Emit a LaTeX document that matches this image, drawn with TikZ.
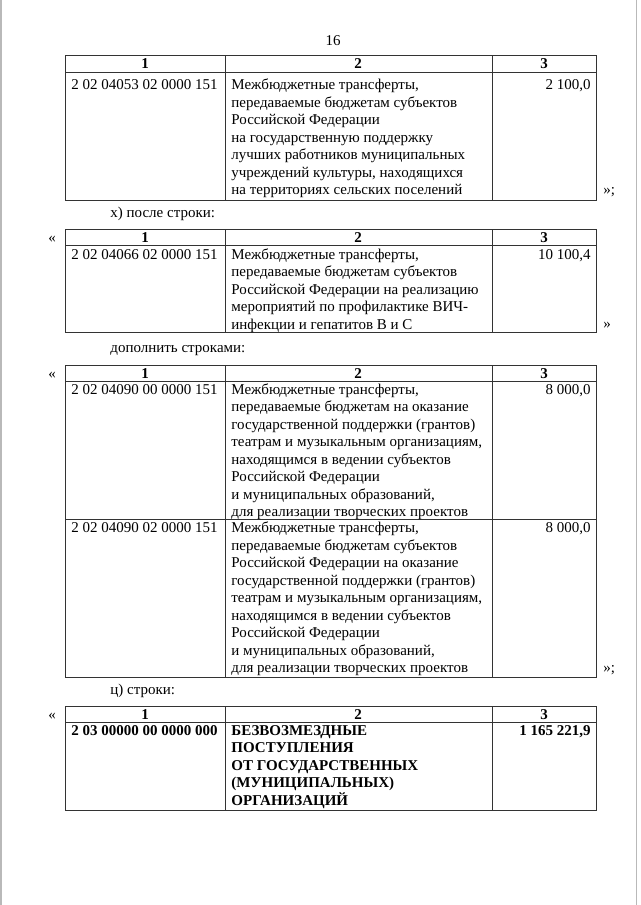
\documentclass[tikz,border=0pt]{standalone}
\usepackage{fontspec}
\setmainfont{Liberation Serif}
\usepackage{tikz}

\newcommand{\cellfont}{\fontsize{15}{17.5}\selectfont}

\begin{document}
\begin{tikzpicture}[x=1pt,y=-1pt,
	line width=0.85pt, draw=black!80,
	txt/.style={anchor=base west, inner sep=0pt, font=\cellfont},
	num/.style={anchor=base east, inner sep=0pt, font=\cellfont},
	head/.style={anchor=base, inner sep=0pt, font=\cellfont\bfseries}]
			\useasboundingbox (0,0) rectangle (640,905);
			%\draw [help lines] (0,0) grid (640,905);
			\fill[white] (0,0) rectangle (640,905);
			\draw[gray!55, line width=1.2pt] (1,0) -- (1,905);
			\draw[gray!55, line width=1.2pt] (636.5,0) -- (636.5,905);

			\node[head, font=\cellfont] (page) at (333,45) {16};

			% table 1
			\draw (65,55) rectangle (596,200);
			\draw (65,72) -- (596,72);
			\draw (225,55) -- (225,200);
			\draw (492,55) -- (492,200);
			\node[head] (ta1) at (145,68) {1};
			\node[head] (ta2) at (358,68) {2};
			\node[head] (ta3) at (544,68) {3};
			\node[txt] (ta-code) at (71,89.5) {2 02 04053 02 0000 151};
			\node[txt] (ta-name) at (231,89.5) {\parbox[t]{260pt}{Межбюджетные трансферты,\\
				передаваемые бюджетам субъектов\\
				Российской Федерации\\
				на государственную поддержку\\
				лучших работников муниципальных\\
				учреждений культуры, находящихся\\
				на территориях сельских поселений}};
			\node[num] (ta-sum) at (591,89.5) {2 100,0};
			\node[txt] (ta-close) at (603,194) {»;};

			\node[txt] (xnote) at (110,217) {х) после строки:};

			% table 2
			\draw (65,229) rectangle (596,332);
			\draw (65,245) -- (596,245);
			\draw (225,229) -- (225,332);
			\draw (492,229) -- (492,332);
			\node[txt] (tb-open) at (48,242) {«};
			\node[head] (tb1) at (145,242) {1};
			\node[head] (tb2) at (358,242) {2};
			\node[head] (tb3) at (544,242) {3};
			\node[txt] (tb-code) at (71,259) {2 02 04066 02 0000 151};
			\node[txt] (tb-name) at (231,259) {\parbox[t]{260pt}{Межбюджетные трансферты,\\
				передаваемые бюджетам субъектов\\
				Российской Федерации на реализацию\\
				мероприятий по профилактике ВИЧ-\\
				инфекции и гепатитов В и С}};
			\node[num] (tb-sum) at (591,259) {10 100,4};
			\node[txt] (tb-close) at (603,328) {»};

			\node[txt] (addnote) at (110,352) {дополнить строками:};

			% table 3
			\draw (65,365) rectangle (596,677);
			\draw (65,381) -- (596,381);
			\draw (65,519) -- (596,519);
			\draw (225,365) -- (225,677);
			\draw (492,365) -- (492,677);
			\node[txt] (tc-open) at (48,378) {«};
			\node[head] (tc1) at (145,378) {1};
			\node[head] (tc2) at (358,378) {2};
			\node[head] (tc3) at (544,378) {3};
			\node[txt] (tc-code1) at (71,394) {2 02 04090 00 0000 151};
			\node[txt] (tc-name1) at (231,394) {\parbox[t]{260pt}{Межбюджетные трансферты,\\
				передаваемые бюджетам на оказание\\
				государственной поддержки (грантов)\\
				театрам и музыкальным организациям,\\
				находящимся в ведении субъектов\\
				Российской Федерации\\
				и муниципальных образований,\\
				для реализации творческих проектов}};
			\node[num] (tc-sum1) at (591,394) {8 000,0};
			\node[txt] (tc-code2) at (71,532.5) {2 02 04090 02 0000 151};
			\node[txt] (tc-name2) at (231,532.5) {\parbox[t]{260pt}{Межбюджетные трансферты,\\
				передаваемые бюджетам субъектов\\
				Российской Федерации на оказание\\
				государственной поддержки (грантов)\\
				театрам и музыкальным организациям,\\
				находящимся в ведении субъектов\\
				Российской Федерации\\
				и муниципальных образований,\\
				для реализации творческих проектов}};
			\node[num] (tc-sum2) at (591,532.5) {8 000,0};
			\node[txt] (tc-close) at (603,672) {»;};

			\node[txt] (cnote) at (110,694) {ц) строки:};

			% table 4
			\draw (65,706) rectangle (596,810);
			\draw (65,722) -- (596,722);
			\draw (225,706) -- (225,810);
			\draw (492,706) -- (492,810);
			\node[txt] (td-open) at (48,719) {«};
			\node[head] (td1) at (145,719) {1};
			\node[head] (td2) at (358,719) {2};
			\node[head] (td3) at (544,719) {3};
			\node[txt, font=\cellfont\bfseries] (td-code) at (71,735) {2 03 00000 00 0000 000};
			\node[txt, font=\cellfont\bfseries] (td-name) at (231,735) {\parbox[t]{260pt}{БЕЗВОЗМЕЗДНЫЕ\\
				ПОСТУПЛЕНИЯ\\
				ОТ ГОСУДАРСТВЕННЫХ\\
				(МУНИЦИПАЛЬНЫХ)\\
				ОРГАНИЗАЦИЙ}};
			\node[num, font=\cellfont\bfseries] (td-sum) at (591,735) {1 165 221,9};
\end{tikzpicture}
\end{document}
